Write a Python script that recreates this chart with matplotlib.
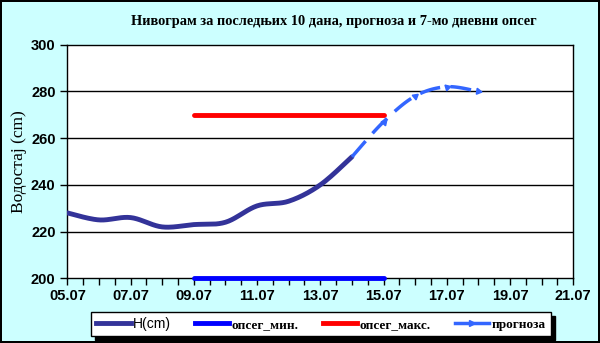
import numpy as np
import matplotlib
matplotlib.use("Agg")
import matplotlib.pyplot as plt
from matplotlib.lines import Line2D

# data
h_dates = ["05.07", "06.07", "07.07", "08.07", "09.07", "10.07", "11.07", "12.07", "13.07", "14.07"]
h_vals = [228, 225, 226, 222, 223, 224, 231, 233, 240, 252]
fc_dates = ["14.07", "15.07", "16.07", "17.07", "18.07"]
fc_vals = [252, 267, 278, 282, 280]
band_dates = ["09.07", "15.07"]
band_min = [200, 200]
band_max = [270, 270]
tick_dates = ["05.07", "07.07", "09.07", "11.07", "13.07", "15.07", "17.07", "19.07", "21.07"]


def day(s):
    return float(s.split(".")[0])


def smooth(x, y, n=20):
    # Excel-like smoothed line (Catmull-Rom through the points)
    x = np.asarray(x, float)
    y = np.asarray(y, float)
    px = np.concatenate([[x[0]], x, [x[-1]]])
    py = np.concatenate([[y[0]], y, [y[-1]]])
    xs, ys = [], []
    for i in range(1, len(px) - 2):
        t = np.linspace(0, 1, n, endpoint=False)
        for p, out in ((px, xs), (py, ys)):
            p0, p1, p2, p3 = p[i - 1], p[i], p[i + 1], p[i + 2]
            out.extend(0.5 * (2 * p1 + (-p0 + p2) * t + (2 * p0 - 5 * p1 + 4 * p2 - p3) * t ** 2
                              + (-p0 + 3 * p1 - 3 * p2 + p3) * t ** 3))
    xs.append(x[-1])
    ys.append(y[-1])
    return np.array(xs), np.array(ys)


bg = "#ccffff"
fig = plt.figure(figsize=(6, 3.43), dpi=100, facecolor=bg)
fig.patch.set_edgecolor("black")
fig.patch.set_linewidth(1.5)
ax = fig.add_axes([0.1122, 0.1886, 0.8433, 0.6811])
ax.set_facecolor("white")

hx = [day(d) for d in h_dates]
fx = [day(d) for d in fc_dates]
bx = [day(d) for d in band_dates]

ax.set_xlim(5, 21)
ax.set_ylim(200, 300)

for v in range(220, 300, 20):
    ax.axhline(v, color="black", lw=1, zorder=1)

ax.plot(bx, band_min, color="#0000ff", lw=3.5, solid_capstyle="round", zorder=3, clip_on=False)
ax.plot(bx, band_max, color="#ff0000", lw=3.5, solid_capstyle="round", zorder=3)

sx, sy = smooth(hx, h_vals)
ax.plot(sx, sy, color="#333399", lw=3.5, solid_capstyle="round", zorder=4)

fsx, fsy = smooth(fx, fc_vals)
ax.plot(fsx, fsy, color="#3366ff", lw=2.5, ls=(0, (6, 3)), zorder=5)

# arrow-like markers along the forecast direction
fig.canvas.draw()
pts = ax.transData.transform(np.column_stack([fx, fc_vals]))
for i in range(1, len(fx)):
    dx, dy = pts[i] - pts[i - 1]
    ang = np.degrees(np.arctan2(dy, dx))
    ax.plot(fx[i], fc_vals[i], marker=(3, 0, ang - 90), color="#3366ff", ms=5, zorder=6)

ax.set_xticks([day(d) for d in tick_dates])
ax.set_xticklabels(tick_dates)
ax.set_xticks(np.arange(5, 21.01, 0.5), minor=True)
ax.set_yticks(range(200, 301, 20))
ax.tick_params(axis="both", which="both", direction="out", length=5, width=1, color="black")
ax.tick_params(axis="x", which="major", pad=3)
for lab in ax.get_xticklabels() + ax.get_yticklabels():
    lab.set_fontfamily("Liberation Sans")
    lab.set_fontweight("bold")
    lab.set_fontsize(10.5)
for s in ax.spines.values():
    s.set_linewidth(1)
    s.set_color("black")

ax.set_ylabel("Водостај (cm)", fontfamily="Liberation Serif", fontsize=12.5, labelpad=3)
fig.text(0.557, 0.936, "Нивограм за последњих 10 дана, прогноза и 7-мо дневни опсег",
         ha="center", va="center", fontfamily="Liberation Serif", fontweight="bold", fontsize=10.4)

handles = [
    Line2D([], [], color="#333399", lw=3.5),
    Line2D([], [], color="#0000ff", lw=3.5),
    Line2D([], [], color="#ff0000", lw=3.5),
    Line2D([], [], color="#3366ff", lw=2.5, marker=">", ms=5, markevery=[1]),
]
labels = ["H(cm)", "опсег_мин.", "опсег_макс.", "прогноза"]
leg = fig.legend(handles, labels, loc="center", bbox_to_anchor=(0.535, 0.056), ncol=4,
                 frameon=True, fancybox=False, edgecolor="black", facecolor="white",
                 shadow={"color": "black", "alpha": 1, "ox": 3, "oy": -3},
                 handlelength=2.6, handletextpad=0.2, columnspacing=1.8,
                 borderpad=0.4, prop={"family": "Liberation Serif", "weight": "bold", "size": 9.5})
leg.get_frame().set_linewidth(1)
leg.get_texts()[0].set_fontfamily("Liberation Sans")
leg.get_texts()[0].set_fontweight("normal")
leg.get_texts()[0].set_fontsize(10)

fig.savefig("out.png", dpi=100, facecolor=bg, edgecolor="black")
